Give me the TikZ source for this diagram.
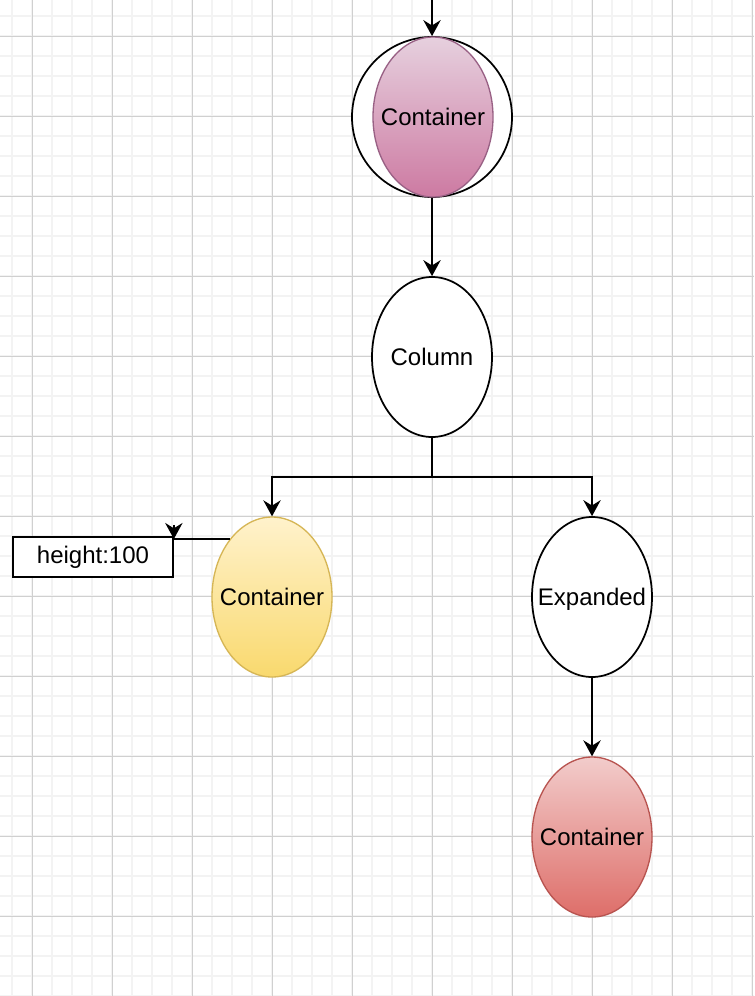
\documentclass[tikz,border=0pt]{standalone}
\usepackage{fontspec}
\setmainfont{Liberation Sans}
\usetikzlibrary{shapes.geometric,arrows.meta}

\definecolor{gridminor}{RGB}{243,243,243}
\definecolor{gridmajor}{RGB}{208,208,208}
\definecolor{pinkfill}{RGB}{230,208,222}
\definecolor{pinkgrad}{RGB}{205,122,162}
\definecolor{pinkline}{RGB}{153,97,133}
\definecolor{yellowfill}{RGB}{255,242,204}
\definecolor{yellowgrad}{RGB}{249,217,110}
\definecolor{yellowline}{RGB}{214,182,86}
\definecolor{redfill}{RGB}{242,204,203}
\definecolor{redgrad}{RGB}{222,110,105}
\definecolor{redline}{RGB}{184,84,80}

\newcommand{\lbl}[1]{\makebox[0pt]{#1}}

\tikzset{
  widget/.style={ellipse, minimum width=90pt, minimum height=120pt, inner sep=0pt,
    text height=13pt, text depth=0pt, font=\fontsize{18}{22}\selectfont},
  plain/.style={widget, draw=black, line width=1.3pt, fill=white},
  arr/.style={-{Stealth[length=12pt,width=13pt,inset=4pt]}, line width=1.5pt},
}

\begin{document}
\begin{tikzpicture}[x=0.75pt,y=0.75pt,yscale=-1,xscale=1]
    \useasboundingbox (0,0) rectangle (754,996);

    %Grid
    \fill[white] (0,0) rectangle (754,996);
    \foreach \x in {12,32,...,752} \draw[gridminor, line width=1.1pt] (\x,0) -- (\x,996);
    \foreach \y in {16,36,...,996} \draw[gridminor, line width=1.1pt] (0,\y) -- (754,\y);
    \foreach \x in {32,112,...,752} \draw[gridmajor, line width=0.75pt] (\x,0) -- (\x,996);
    \foreach \y in {36,116,...,996} \draw[gridmajor, line width=0.75pt] (0,\y) -- (754,\y);

    %Shape: Circle
    \node[circle, draw=black, line width=1.3pt, fill=white, minimum size=120pt, inner sep=0pt] (outer) at (432,117) {};
    %Shape: Ellipse
    \node[widget, draw=pinkline, line width=1pt, top color=pinkfill, bottom color=pinkgrad] (topcont) at (433,117) {\lbl{Container}};

    %Shape: Ellipse
    \node[plain] (column) at (432,357) {\lbl{Column}};
    %Shape: Ellipse
    \node[widget, draw=yellowline, line width=1pt, top color=yellowfill, bottom color=yellowgrad] (leftcont) at (272,597) {\lbl{Container}};
    %Shape: Ellipse
    \node[plain] (expanded) at (592,597) {\lbl{Expanded}};
    %Shape: Ellipse
    \node[widget, draw=redline, line width=1pt, top color=redfill, bottom color=redgrad] (redcont) at (592,837) {\lbl{Container}};

    %Shape: Rectangle
    \node[draw=black, line width=1.3pt, fill=white, minimum width=120pt, minimum height=30pt, inner sep=0pt,
      font=\fontsize{18}{22}\selectfont] (heightbox) at (93,557) {height:100};

    \coordinate (entry) at (432,0);
    \coordinate (bus) at (432,477);
    \coordinate (hook) at (leftcont.126.4 -| heightbox.east);

    %Straight Lines
    \draw[arr] (entry) -- (outer.north);
    \draw[arr] (outer.south) -- (column.north);
    \draw[line width=1.5pt] (column.south) -- (bus);
    \draw[arr] (bus) -| (leftcont.north);
    \draw[arr] (bus) -| (expanded.north);
    \draw[arr] (expanded.south) -- (redcont.north);

    %Straight Lines
    \draw[line width=1.3pt] (leftcont.126.4) -- (hook);
    \draw[arr] (hook) ++(0,-14) -- (hook);

\end{tikzpicture}
\end{document}
